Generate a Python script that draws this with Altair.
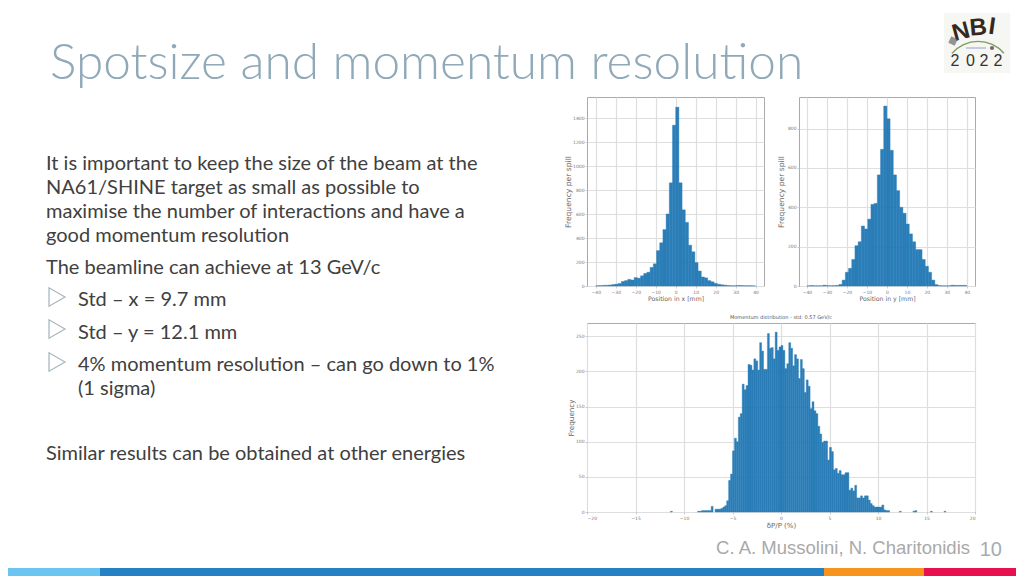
import altair as alt
import pandas as pd

title_text = "Spotsize and momentum resolution"
left_lines = ["It is important to keep the size of the beam at the",
              "NA61/SHINE target as small as possible to",
              "maximise the number of interactions and have a",
              "good momentum resolution",
              "The beamline can achieve at 13 GeV/c",
              "Similar results can be obtained at other energies"]
bullet_lines = ["Std – x = 9.7 mm", "Std – y = 12.1 mm",
                "4% momentum resolution – can go down to 1%", "(1 sigma)"]
author_text = "C. A. Mussolini, N. Charitonidis"
page_number = "10"

x_hist_counts = [2, 3, 5, 6, 8, 12, 15, 20, 38, 45, 55, 50, 70, 65, 85, 105, 115, 155, 185, 295, 360, 470, 600, 860, 1340,
                 1490, 860, 635, 530, 340, 285, 195, 125, 75, 68, 45, 35, 22, 15, 10, 7, 4, 2, 2, 4, 4, 2, 2, 2, 1]
y_hist_counts = [1, 2, 1, 1, 1, 4, 2, 1, 2, 3, 8, 30, 70, 90, 135, 205, 225, 305, 290, 340, 415, 420, 565, 695, 915,
                 850, 690, 565, 485, 400, 370, 315, 265, 225, 185, 185, 135, 100, 70, 30, 7, 2, 1, 1, 1, 4, 3, 3, 3, 3]
momentum_counts = [1, 0, 0, 0, 0, 0, 0, 0, 0, 0, 0, 0, 0, 0,
                   1, 1, 2, 2, 2, 2, 2, 8, 0, 4, 4, 4, 5, 7, 9, 16, 45, 54,
                   87, 105, 100, 135, 140, 182, 174, 180, 210, 209, 202, 218, 215, 202, 241, 229, 203, 203,
                   254, 233, 234, 218, 256, 230, 235,
                   237, 230, 204, 211, 241, 233, 208, 224, 218, 190, 217, 204, 170, 188, 179, 147, 157, 144, 140,
                   122, 111, 99, 101, 101, 74, 92, 86, 60, 62, 55, 59, 53, 53, 56, 56, 31, 34, 30, 38,
                   20, 20, 23, 20, 23, 23, 17, 12, 9, 7, 7, 7, 7, 10, 3, 2, 2,
                   0, 0, 0, 0, 0, 1, 0, 0, 0, 0, 0, 0, 1, 2, 0, 0, 0, 0, 0, 0, 0, 1, 0, 0, 0, 0, 0, 0, 1]


def table(counts, start, width):
    return pd.DataFrame({"lo": [round(start + i * width, 3) for i in range(len(counts))],
                         "hi": [round(start + (i + 1) * width, 3) for i in range(len(counts))],
                         "n": counts})


one = alt.Data(values=[{}])
BLUE = "#1f77b4"


def hist(df, xtitle, ytitle, xdom, ydom, xticks, yticks, w, h, xfont, yfont, ypad, plot_title=None):
    c = alt.Chart(df[df.n > 0]).mark_bar(color=BLUE, opacity=0.94, stroke=BLUE, strokeWidth=0.4).encode(
        x=alt.X("lo:Q", scale=alt.Scale(domain=xdom, nice=False, zero=False),
                axis=alt.Axis(title=xtitle, values=xticks, titleFontSize=xfont, titlePadding=2)),
        x2="hi:Q",
        y=alt.Y("n:Q", scale=alt.Scale(domain=ydom, nice=False),
                axis=alt.Axis(title=ytitle, values=yticks, format="d", titleFontSize=yfont, titlePadding=ypad)),
        y2=alt.datum(0),
    ).properties(width=w, height=h, view=alt.ViewBackground(stroke="#AAAAAA", strokeWidth=1))
    if plot_title:
        c = c.properties(title=alt.TitleParams(plot_title, fontSize=5, color="#555555", fontWeight="normal",
                                               font="DejaVu Sans", offset=3))
    return c


a = hist(table(x_hist_counts, -40, 1.6), "Position in x [mm]", "Frequency per spill", [-44.4, 44.2], [0, 1575],
         list(range(-40, 41, 10)), list(range(0, 1401, 200)), 177, 189, 6.2, 7.6, 0)
b = hist(table(y_hist_counts, -40, 1.6), "Position in y [mm]", "Frequency per spill", [-44, 44.1], [0, 961],
         list(range(-40, 41, 10)), list(range(0, 801, 200)), 176, 189, 6.2, 7.6, 2)
c = hist(table(momentum_counts, -11.4, 0.2), "δP/P (%)", "Frequency", [-20, 20], [0, 269],
         list(range(-20, 21, 5)), list(range(0, 251, 50)), 388, 189, 7, 7.2, 0,
         "Momentum distribution - std: 0.57 GeV/c")

HX, HY = 8, 8          # header origin on the page
LX, LY = 8, 97         # left panel origin on the page
FX, FY = 8, 529        # footer origin on the page


def text(s, x, y, ox, oy, size=20, color="#404040", font="Lato", align="left", weight="normal", angle=0, base="alphabetic"):
    return alt.Chart(one).mark_text(fontSize=size, color=color, font=font, align=align, fontWeight=weight,
                                    angle=angle, baseline=base).encode(
        x=alt.value(x - ox), y=alt.value(y - oy), text=alt.value(s))


header_layers = [
    text(title_text, 50, 79, HX, HY, size=49.6, color="#8FA9B9", font="Lato", weight=300),
    alt.Chart(one).mark_rect(color="#F6F6F3").encode(
        x=alt.value(944 - HX), x2=alt.value(1010 - HX), y=alt.value(13 - HY), y2=alt.value(73 - HY)),
    alt.Chart(one).mark_arc(radius=35, radius2=33.6, theta=5.42, theta2=7.14, color="#7F9C62").encode(
        x=alt.value(978 - HX), y=alt.value(75.7 - HY)),
    text("N", 963, 39, HX, HY, size=24, color="#33291F", font="Liberation Sans", align="center", weight="bold", angle=345),
    text("B", 979, 35, HX, HY, size=24, color="#33291F", font="Liberation Sans", align="center", weight="bold", angle=355),
    text("I", 991, 34, HX, HY, size=24, color="#33291F", font="Liberation Sans", align="center", weight="bold", angle=8),
    alt.Chart(one).mark_point(shape="square", filled=True, color="#66696C", size=50, angle=25).encode(
        x=alt.value(953 - HX), y=alt.value(41 - HY)),
    alt.Chart(one).mark_point(shape="circle", filled=True, color="#333333", size=18).encode(
        x=alt.value(992 - HX), y=alt.value(48 - HY)),
    alt.Chart(one).mark_rule(color="#B4BCE0", strokeWidth=1.5).encode(
        x=alt.value(966 - HX), x2=alt.value(986 - HX), y=alt.value(48 - HY)),
]
for ch, px in zip("2022", [955, 970.5, 984, 998]):
    header_layers.append(text(ch, px, 66, HX, HY, size=16, color="#333333", font="Liberation Sans", align="center"))
header = alt.layer(*header_layers).properties(width=1008, height=88)

left_layers = []
for s, py in zip(left_lines, [170, 194, 218, 242, 274, 460]):
    left_layers.append(text(s, 46, py, LX, LY))
for s, py in zip(bullet_lines, [306, 338.5, 371, 395]):
    left_layers.append(text(s, 78, py, LX, LY))
for py in [297, 329, 362]:
    left_layers.append(alt.Chart(one).mark_point(shape="triangle-right", size=340, stroke="#A9B8C0",
                                                 strokeWidth=1.3, fill="white", fillOpacity=1).encode(
        x=alt.value(57 - LX), y=alt.value(py - LY)))
left = alt.layer(*left_layers).properties(width=556, height=415)

footer_layers = [text(author_text, 970, 554, FX, FY, size=18.5, color="#A9A9A9", font="Liberation Sans", align="right"),
                 text(page_number, 1002, 556, FX, FY, size=20, color="#A3ADB5", font="Liberation Sans", align="right")]
for color, x0, x1 in [("#6CC5F1", 8, 100), ("#2581C4", 100, 824), ("#F7941E", 824, 924), ("#E8114F", 924, 1016)]:
    footer_layers.append(alt.Chart(one).mark_rect(color=color).encode(
        x=alt.value(x0 - FX), x2=alt.value(x1 - FX), y=alt.value(568 - FY), y2=alt.value(576 - FY)))
footer = alt.layer(*footer_layers).properties(width=1008, height=47)

right = alt.vconcat(alt.hconcat(a, b, spacing=11), c, spacing=11)
chart = alt.vconcat(header, alt.hconcat(left, right, spacing=0), footer, spacing=0).properties(padding=0).configure_view(
    stroke=None).configure_axis(
    grid=True, gridColor="#DEDEDE", gridWidth=1.2, domain=False, tickColor="#999999", tickSize=2, tickWidth=0.5,
    labelFontSize=4.5, labelColor="#777777", labelFont="DejaVu Sans", titleColor="#666666", titleFont="DejaVu Sans",
    titleFontWeight="normal", labelPadding=1)

chart.save("out.html", embed_options={"renderer": "svg", "actions": False})
